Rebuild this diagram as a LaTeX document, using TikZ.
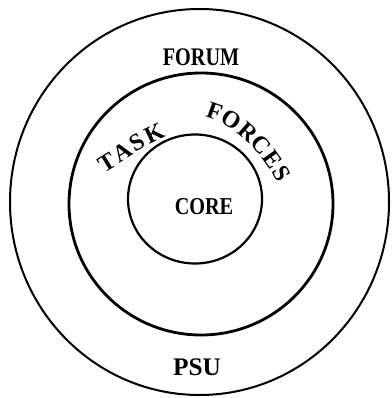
\documentclass[tikz,border=0pt]{standalone}
\usepackage{fontspec}
\setmainfont{Liberation Serif}
\usetikzlibrary{decorations.text}
\begin{document}
\begin{tikzpicture}[x=1pt,y=-1pt,
  ring/.style={draw=black,line width=#1},
  lbl/.style={font=\fontsize{22}{22}\selectfont\bfseries,inner sep=0pt}]
\useasboundingbox (0,0) rectangle (391,398);
\fill[white] (0,0) rectangle (391,398);
% rings
\draw[ring=2pt] (199.5,202) ellipse [x radius=189.5, y radius=193];
\draw[ring=2.8pt] (201,204) ellipse [x radius=132, y radius=131];
\draw[ring=2.2pt] (195,199) ellipse [x radius=67, y radius=64.5];
% labels
\node[lbl] (forum) at (201,57) {\scalebox{0.92}[1.15]{FORUM}};
\node[lbl] (core) at (204,207) {\scalebox{0.92}[1.1]{CORE}};
\node[lbl] (psu) at (197,367) {\scalebox{1.15}[1.15]{PSU}};
% curved labels
\coordinate (ts) at (104,173);
\coordinate (te) at (166,137);
\path[decorate,decoration={text along path,
   text={|\fontsize{24}{24}\selectfont\bfseries|TASK},
   text align={fit to path}}]
   (ts) .. controls (125,161) and (145,145) .. (te);
\coordinate (fs) at (205,117);
\coordinate (fe) at (278,183);
\path[decorate,decoration={text along path,
   text={|\fontsize{24}{24}\selectfont\bfseries|FORCES},
   text align={fit to path}}]
   (fs) .. controls (232,123) and (262,151) .. (fe);
\end{tikzpicture}
\end{document}
